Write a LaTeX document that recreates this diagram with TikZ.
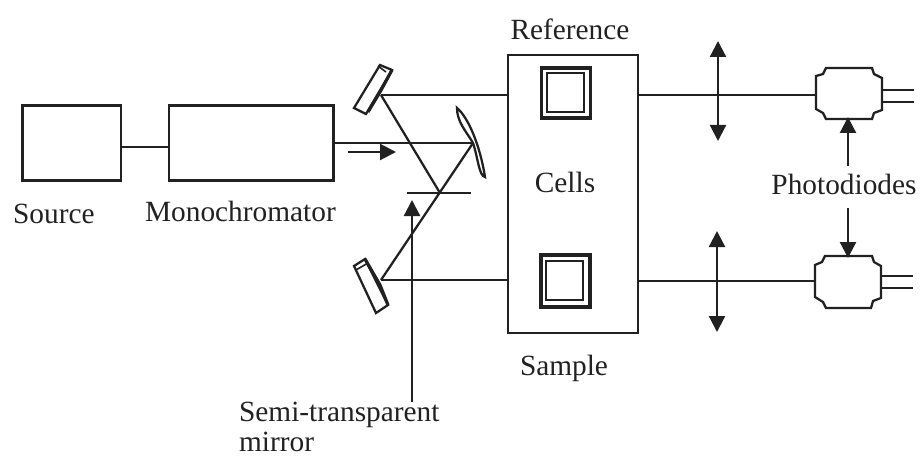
\documentclass[tikz,border=0pt]{standalone}
\usepackage{fontspec}
\setmainfont{Liberation Serif}
\usetikzlibrary{arrows.meta}
\definecolor{ink}{gray}{0.13}
\tikzset{
  x=0.75pt,y=-0.75pt,
  every path/.style={line width=1.7pt,draw=ink},
  lbl/.style={font=\fontsize{22}{26}\selectfont,text=ink,inner sep=0pt,draw=none,anchor=base},
  head/.style={-{Triangle[length=12pt,width=12pt]}},
  dhead/.style={{Triangle[length=12pt,width=12pt]}-{Triangle[length=12pt,width=12pt]}},
  cellout/.style={line width=2.3pt},
  thin/.style={line width=1.2pt},
  thick2/.style={line width=2.4pt}
}
\begin{document}
\begin{tikzpicture}
\useasboundingbox[draw=none] (0,0) rectangle (920,456);
% coordinates
\coordinate (srcR) at (121,147);
\coordinate (monL) at (169,147);
\coordinate (monR) at (334,143);
\coordinate (curv) at (473,143);
\coordinate (mtop) at (381,95);
\coordinate (mbot) at (381,280);
\coordinate (split) at (440,193);
\coordinate (boxTL) at (509,95);
\coordinate (boxBL) at (509,280);
\coordinate (boxTR) at (638,95);
\coordinate (boxBR) at (638,281);
\coordinate (pdTL) at (815,95);
\coordinate (pdBL) at (815,281);
% boxes
\draw (22.5,105.5) rectangle (121,180.5);
\draw (169,105.5) rectangle (333.5,180.5);
\draw (508,55) rectangle (638,333);
% beams
\draw (srcR) -- (monL);
\draw (monR) -- (curv);
\draw (mtop) -- (boxTL);
\draw (mbot) -- (boxBL);
\draw (mtop) -- (split);
\draw (curv) -- (mbot);
\draw (boxTR) -- (pdTL);
\draw (boxBR) -- (pdBL);
\coordinate (splitL) at (407,193);
\coordinate (splitR) at (471,193);
\draw (splitL) -- (splitR);
% flat mirrors
\draw[fill=white] (380,65) -- (392,70) -- (366,114) -- (354,108) -- cycle;
\draw[thick2] (392,70) -- (380,92) -- (368,112);
\draw[thin] (378,66) -- (386,72);
\draw[fill=white] (354,266) -- (365,259) -- (388,305) -- (376,313) -- cycle;
\draw[thick2] (365,259) -- (380,285) -- (388,305);
\draw[thin] (356,270) -- (368,263);
% curved mirror
\draw[fill=white] (457,108) .. controls (468,117) and (480,145) .. (485,177)
  .. controls (479,176) and (478,158) .. (473,143) .. controls (466,131) and (457,122) .. (457,108) -- cycle;
% cells
\draw[cellout] (541.5,68) rectangle (590.5,118);
\draw[thin] (547,73) rectangle (584,112);
\draw[cellout] (541,255) rectangle (590,307);
\draw[thin] (546,261) rectangle (583,300);
% arrows
\coordinate (flowA) at (348,152);
\coordinate (flowB) at (396,152);
\draw[head] (flowA) -- (flowB);
\coordinate (semiA) at (412,402);
\coordinate (semiB) at (412,200);
\draw[head] (semiA) -- (semiB);
\coordinate (lensAa) at (718,41);
\coordinate (lensAb) at (718,141);
\draw[dhead] (lensAa) -- (lensAb);
\coordinate (lensBa) at (717,231);
\coordinate (lensBb) at (717,332);
\draw[dhead] (lensBa) -- (lensBb);
% photodiodes
\draw (826,68) -- (872,68) -- (874,74) -- (882,78) -- (882,110) -- (874,113) -- (872,119)
  -- (826,119) -- (823,113) -- (816,109) -- (816,76) -- (823,74) -- cycle;
\draw (825,256) -- (872,256) -- (874,262) -- (881,266) -- (881,298) -- (873,301) -- (871,308)
  -- (826,308) -- (823,302) -- (815,297) -- (815,265) -- (822,262) -- cycle;
\draw (882,90) -- (914,90);
\draw (882,102) -- (914,102);
\draw (881,276) -- (913,276);
\draw (881,288) -- (913,288);
\coordinate (phA) at (848,166);
\coordinate (phB) at (848,117);
\draw[head] (phA) -- (phB);
\coordinate (phC) at (848,208);
\coordinate (phD) at (848,258);
\draw[head] (phC) -- (phD);
% labels
\node[lbl] (tRef) at (570,40) {Reference};
\node[lbl] (tCells) at (565,192) {Cells};
\node[lbl,anchor=base west] (tSrc) at (12,223) {Source};
\node[lbl,anchor=base west] (tMono) at (144,221) {Monochromator};
\node[lbl] (tSample) at (564,375) {Sample};
\node[lbl] (tPhoto) at (844,195) {Photodiodes};
\node[lbl,anchor=base west] (tSemi) at (238,421) {Semi-transparent};
\node[lbl,anchor=base west] (tMir) at (238,451) {mirror};
\end{tikzpicture}
\end{document}
